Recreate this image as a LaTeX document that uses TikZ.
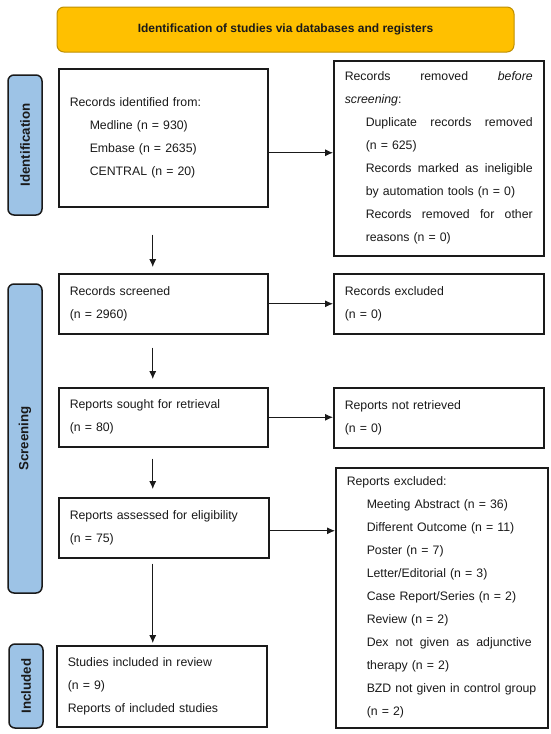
\documentclass[tikz,border=0pt]{standalone}
\usepackage{fontspec}
\setmainfont{Liberation Sans}
\usetikzlibrary{arrows.meta,calc}
\definecolor{bannerfill}{HTML}{FFC000}
\definecolor{bannerline}{HTML}{BF9000}
\definecolor{phasefill}{HTML}{9DC3E6}
\definecolor{ink}{HTML}{1A1A1A}
\newcommand{\jline}[2]{\hbox to #1{#2}}
\begin{document}
\begin{tikzpicture}[x=1pt,y=-1pt,
  box/.style={draw=ink,line width=1.5pt,fill=white,anchor=north west,inner xsep=11pt,inner ysep=0pt,
    align=left,font=\fontsize{12.3}{23}\selectfont,text=ink},
  phase/.style={draw=ink,line width=1.5pt,fill=phasefill,rounded corners=6pt,rotate=90,
    minimum height=34pt,inner sep=0pt,font=\bfseries\fontsize{13.3}{15}\selectfont,text=ink},
  banner/.style={draw=bannerline,line width=1pt,fill=bannerfill,rounded corners=7pt,
    minimum width=457pt,minimum height=45pt,font=\bfseries\fontsize{12}{14}\selectfont,text=ink},
  arr/.style={draw=ink,line width=0.9pt,-{Latex[length=8pt,width=7pt]}}]
\useasboundingbox (0,0) rectangle (550,734);
\fill[white] (0,0) rectangle (550,734);

\node[banner] (ban) at (285.5,29.5) {Identification of studies via databases and registers};

\node[phase,minimum width=140pt] (pid) at (25,145) {Identification};
\node[phase,minimum width=309pt] (pscr) at (25,438.5) {Screening};
\node[phase,minimum width=84pt] (pinc) at (26,686) {Included};

\node[box,minimum width=209pt,minimum height=138pt,text width=187pt] (idn) at (58,68)
{Records identified from:\\
\hspace*{20pt}Medline (n = 930)\\
\hspace*{20pt}Embase (n = 2635)\\
\hspace*{20pt}CENTRAL (n = 20)};

\node[box,minimum width=210pt,minimum height=195pt,text width=188pt] (rem) at (333,60)
{\jline{188pt}{Records\hfill removed\hfill\textit{before}}\\
\textit{screening}:\\
\hspace*{21pt}\jline{167pt}{Duplicate\hfill records\hfill removed}\\
\hspace*{21pt}(n = 625)\\
\hspace*{21pt}\jline{167pt}{Records\hfill marked\hfill as\hfill ineligible}\\
\hspace*{21pt}by automation tools (n = 0)\\
\hspace*{21pt}\jline{167pt}{Records\hfill removed\hfill for\hfill other}\\
\hspace*{21pt}reasons (n = 0)};

\node[box,minimum width=209pt,minimum height=60pt,text width=187pt] (scr) at (58,273)
{Records screened\\(n = 2960)};
\node[box,minimum width=210pt,minimum height=60pt,text width=188pt] (exc) at (333,273)
{Records excluded\\(n = 0)};

\node[box,minimum width=209pt,minimum height=59pt,text width=187pt] (sou) at (58,387)
{Reports sought for retrieval\\(n = 80)};
\node[box,minimum width=210pt,minimum height=60pt,text width=188pt] (nre) at (333,387)
{Reports not retrieved\\(n = 0)};

\node[box,minimum width=210pt,minimum height=60pt,text width=188pt] (ass) at (58,497)
{Reports assessed for eligibility\\(n = 75)};
\node[box,minimum width=212pt,minimum height=260pt,text width=190pt] (rex) at (335,467)
{Reports excluded:\\
\hspace*{20pt}Meeting Abstract (n = 36)\\
\hspace*{20pt}Different Outcome (n = 11)\\
\hspace*{20pt}Poster (n = 7)\\
\hspace*{20pt}Letter/Editorial (n = 3)\\
\hspace*{20pt}Case Report/Series (n = 2)\\
\hspace*{20pt}Review (n = 2)\\
\hspace*{20pt}\jline{165pt}{Dex\hfill not\hfill given\hfill as\hfill adjunctive}\\
\hspace*{20pt}therapy (n = 2)\\
\hspace*{20pt}\mbox{BZD not given in control group}\\
\hspace*{20pt}(n = 2)};

\node[box,minimum width=210pt,minimum height=81pt,text width=188pt] (inc) at (56,645)
{Studies included in review\\(n = 9)\\Reports of included studies};

% horizontal connectors
\draw[arr] ($(idn.east)+(0,15)$) -- (rem.west |- {$(idn.east)+(0,15)$});
\draw[arr] (scr.east) -- (exc.west |- scr.east);
\draw[arr] (sou.east) -- (nre.west |- sou.east);
\draw[arr] ($(ass.east)+(0,3)$) -- (rex.west |- {$(ass.east)+(0,3)$});

% vertical connectors
\draw[arr] ($(idn.south)+(-10.5,27)$) -- ($(scr.north)+(-10.5,-6)$);
\draw[arr] ($(scr.south)+(-10.5,13)$) -- ($(sou.north)+(-10.5,-8)$);
\draw[arr] ($(sou.south)+(-10.5,11)$) -- ($(ass.north)+(-11,-8)$);
\draw[arr] ($(ass.south)+(-11,5)$) -- ($(inc.north)+(-9,-2)$);
\end{tikzpicture}
\end{document}
